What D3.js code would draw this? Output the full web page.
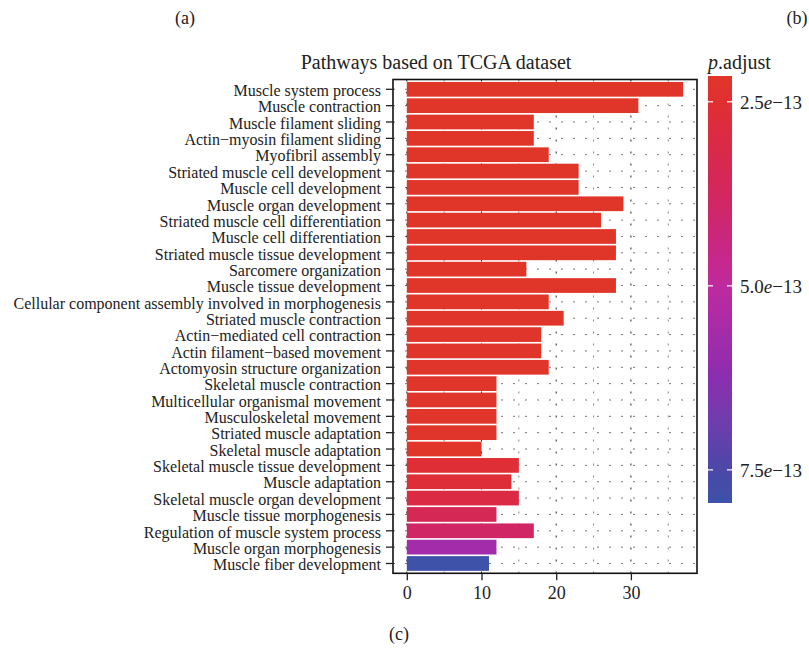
<!DOCTYPE html>
<html>
<head>
<meta charset="utf-8">
<script src="https://cdn.jsdelivr.net/npm/d3@7"></script>
<style>
  body { margin: 0; background: #fff; }
  text { font-family: "Liberation Serif", "DejaVu Serif", serif; fill: #222; }
</style>
</head>
<body>
<svg width="809" height="652"></svg>
<script>
// pathway names, top to bottom
var categories = [
  "Muscle system process",
  "Muscle contraction",
  "Muscle filament sliding",
  "Actin\u2212myosin filament sliding",
  "Myofibril assembly",
  "Striated muscle cell development",
  "Muscle cell development",
  "Muscle organ development",
  "Striated muscle cell differentiation",
  "Muscle cell differentiation",
  "Striated muscle tissue development",
  "Sarcomere organization",
  "Muscle tissue development",
  "Cellular component assembly involved in morphogenesis",
  "Striated muscle contraction",
  "Actin\u2212mediated cell contraction",
  "Actin filament\u2212based movement",
  "Actomyosin structure organization",
  "Skeletal muscle contraction",
  "Multicellular organismal movement",
  "Musculoskeletal movement",
  "Striated muscle adaptation",
  "Skeletal muscle adaptation",
  "Skeletal muscle tissue development",
  "Muscle adaptation",
  "Skeletal muscle organ development",
  "Muscle tissue morphogenesis",
  "Regulation of muscle system process",
  "Muscle organ morphogenesis",
  "Muscle fiber development"
];
var counts = [37, 31, 17, 17, 19, 23, 23, 29, 26, 28, 28, 16, 28, 19, 21, 18, 18, 19,
              12, 12, 12, 12, 10, 15, 14, 15, 12, 17, 12, 11];
var pAdjust = [2.15e-13, 2.15e-13, 2.15e-13, 2.15e-13, 2.15e-13, 2.15e-13, 2.15e-13, 2.15e-13,
               2.15e-13, 2.15e-13, 2.15e-13, 2.15e-13, 2.15e-13, 2.15e-13, 2.2e-13, 2.2e-13,
               2.2e-13, 2.2e-13, 2.2e-13, 2.2e-13, 2.2e-13, 2.2e-13, 2.15e-13, 2.6e-13,
               2.65e-13, 3.0e-13, 3.5e-13, 3.9e-13, 5.7e-13, 7.95e-13];
var xTicks = [0, 10, 20, 30];
var xMinor = [5, 15, 25, 35];
var legendTicks = [2.5e-13, 5.0e-13, 7.5e-13];
var legendLabels = ["2.5", "5.0", "7.5"];
var pRange = [2.15e-13, 7.95e-13];

var svg = d3.select("svg");
var panel = {left: 393, right: 697, top: 79.5, bottom: 573.3};

var xMax = d3.max(counts);
var xScale = d3.scaleLinear()
  .domain([-0.05 * xMax, xMax * 1.05])
  .range([panel.left, panel.right]);
var yScale = d3.scaleBand()
  .domain(categories)
  .range([panel.top, panel.bottom])
  .paddingInner(0.1).paddingOuter(0.15);

var color = d3.scaleLinear()
  .domain([2.15e-13, 2.5e-13, 3.75e-13, 5.0e-13, 6.25e-13, 7.5e-13, 7.95e-13])
  .range(["#e0362a", "#e02f31", "#d2265e", "#bf2a9f", "#8a2db0", "#4a47a8", "#3d52a8"])
  .interpolate(d3.interpolateLab);

// header labels
svg.append("text").attr("x", 185).attr("y", 24).attr("text-anchor", "middle")
  .style("font-size", "18px").text("(a)");
svg.append("text").attr("x", 797).attr("y", 24).attr("text-anchor", "middle")
  .style("font-size", "18px").text("(b)");
svg.append("text").attr("x", 399).attr("y", 640).attr("text-anchor", "middle")
  .style("font-size", "18px").text("(c)");
svg.append("text").attr("x", 436).attr("y", 69).attr("text-anchor", "middle")
  .style("font-size", "20px").text("Pathways based on TCGA dataset");

// gridlines
var grid = svg.append("g");
grid.selectAll(".hg").data(categories).enter().append("line")
  .attr("x1", panel.left).attr("x2", panel.right)
  .attr("y1", function(d){ return yScale(d) + yScale.bandwidth()/2; })
  .attr("y2", function(d){ return yScale(d) + yScale.bandwidth()/2; })
  .attr("stroke", "#777").attr("stroke-width", 1).attr("stroke-dasharray", "2,10");
grid.selectAll(".vmaj").data(xTicks).enter().append("line")
  .attr("x1", function(d){ return xScale(d); }).attr("x2", function(d){ return xScale(d); })
  .attr("y1", panel.top).attr("y2", panel.bottom)
  .attr("stroke", "#222").attr("stroke-width", 1).attr("stroke-dasharray", "2,10");
grid.selectAll(".vmin").data(xMinor).enter().append("line")
  .attr("x1", function(d){ return xScale(d); }).attr("x2", function(d){ return xScale(d); })
  .attr("y1", panel.top).attr("y2", panel.bottom)
  .attr("stroke", "#888").attr("stroke-width", 1).attr("stroke-dasharray", "2,10");

// bars
svg.selectAll(".bar").data(categories).enter().append("rect")
  .attr("x", xScale(0))
  .attr("y", function(d){ return yScale(d); })
  .attr("width", function(d, i){ return xScale(counts[i]) - xScale(0); })
  .attr("height", yScale.bandwidth())
  .attr("fill", function(d, i){ return color(pAdjust[i]); });

// panel border
svg.append("rect").attr("x", panel.left).attr("y", panel.top)
  .attr("width", panel.right - panel.left).attr("height", panel.bottom - panel.top)
  .attr("fill", "none").attr("stroke", "#111").attr("stroke-width", 1.6);

// axes
var yAxis = svg.append("g").attr("transform", "translate(" + panel.left + ",0)")
  .call(d3.axisLeft(yScale).tickSize(7).tickPadding(5));
yAxis.select(".domain").remove();
yAxis.selectAll("line").attr("stroke", "#222").attr("stroke-width", 1.3);
yAxis.selectAll("text").style("font-size", "16px").attr("fill", "#222").attr("dy", "0.42em")
  .style("font-family", "'Liberation Serif', serif");

var xAxis = svg.append("g").attr("transform", "translate(0," + panel.bottom + ")")
  .call(d3.axisBottom(xScale).tickValues(xTicks).tickSize(7).tickPadding(6));
xAxis.select(".domain").remove();
xAxis.selectAll("line").attr("stroke", "#222").attr("stroke-width", 1.3);
xAxis.selectAll("text").style("font-size", "18px").attr("fill", "#222")
  .style("font-family", "'Liberation Serif', serif");

// colour legend
var leg = {x: 708, w: 24, top: 76, bottom: 503};
var legScale = d3.scaleLinear().domain(pRange).range([leg.top, leg.bottom]);
var grad = svg.append("defs").append("linearGradient").attr("id", "pgrad")
  .attr("x1", 0).attr("x2", 0).attr("y1", 0).attr("y2", 1);
d3.range(0, 1.0001, 0.05).forEach(function(t){
  grad.append("stop").attr("offset", t)
    .attr("stop-color", color(pRange[0] + t * (pRange[1] - pRange[0])));
});
svg.append("rect").attr("x", leg.x).attr("y", leg.top)
  .attr("width", leg.w).attr("height", leg.bottom - leg.top).attr("fill", "url(#pgrad)");

var lt = svg.append("g");
legendTicks.forEach(function(v, i){
  var y = legScale(v);
  lt.append("line").attr("x1", leg.x).attr("x2", leg.x + 5).attr("y1", y).attr("y2", y)
    .attr("stroke", "#fff").attr("stroke-width", 1.2);
  lt.append("line").attr("x1", leg.x + leg.w - 5).attr("x2", leg.x + leg.w).attr("y1", y).attr("y2", y)
    .attr("stroke", "#fff").attr("stroke-width", 1.2);
  var t = lt.append("text").attr("x", leg.x + leg.w + 8).attr("y", y).attr("dy", "0.38em")
    .style("font-size", "19px");
  t.append("tspan").text(legendLabels[i]);
  t.append("tspan").style("font-style", "italic").text("e");
  t.append("tspan").text("\u221213");
});

var lTitle = svg.append("text").attr("x", leg.x).attr("y", 69).style("font-size", "20px");
lTitle.append("tspan").style("font-style", "italic").text("p");
lTitle.append("tspan").text(".adjust");
</script>
</body>
</html>
